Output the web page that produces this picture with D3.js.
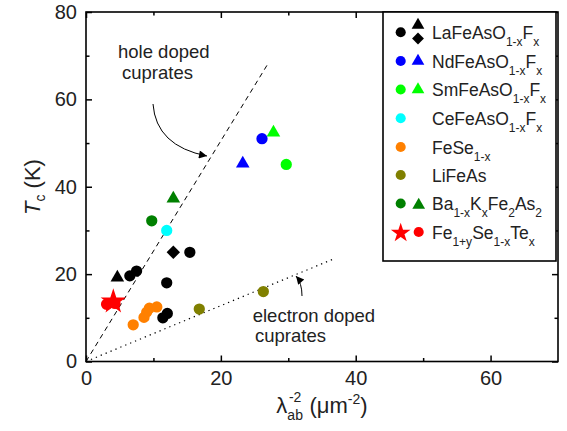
<!DOCTYPE html>
<html>
<head>
<meta charset="utf-8">
<script src="https://cdn.jsdelivr.net/npm/d3@7"></script>
<style>
  body { margin: 0; background: #fff; }
  svg { display: block; font-family: "Liberation Sans", Arial, sans-serif; }
</style>
</head>
<body>
<svg id="chart" width="567" height="431"></svg>
<script>
// ---- data (x = lambda_ab^-2 in um^-2, y = Tc in K) ----
const laCircles = [[6.5, 19.6], [7.5, 20.7], [11.97, 18.0], [11.4, 10.0], [12.06, 11.0], [15.4, 25.0]];
const laTriangles = [[4.65, 19.2]];
const laDiamonds = [[12.95, 25.0]];
const ndCircles = [[26.1, 51.0]];
const ndTriangles = [[23.25, 45.3]];
const smCircles = [[29.7, 45.1]];
const smTriangles = [[27.8, 52.4]];
const ceCircles = [[11.97, 30.0]];
const feSeCircles = [[7.0, 8.4], [8.6, 10.1], [9.0, 11.3], [9.4, 12.2], [10.5, 12.5]];
const liFeAsCircles = [[16.8, 12.0], [26.3, 16.0]];
const baCircles = [[9.75, 32.2]];
const baTriangles = [[12.95, 37.3]];
const feSeTeCircles = [[3.05, 13.1], [4.3, 13.3]];
const feSeTeStars = [[4.05, 13.7]];
const holeLine = [[0, 0], [27, 68.2]];
const electronLine = [[0, 0], [36.6, 23.4]];
const xTicks = [0, 20, 40, 60];
const yTicks = [0, 20, 40, 60, 80];

const svg = d3.select("#chart");
const x = d3.scaleLinear().domain([0, 70]).range([86, 558]);
const y = d3.scaleLinear().domain([0, 80]).range([361.5, 12]);

// reference lines
const line = d3.line().x(d => x(d[0])).y(d => y(d[1]));
svg.append("path").datum(holeLine).attr("d", line)
  .attr("fill", "none").attr("stroke", "#000").attr("stroke-width", 1).attr("stroke-dasharray", "5,4");
svg.append("path").datum(electronLine).attr("d", line)
  .attr("fill", "none").attr("stroke", "#000").attr("stroke-width", 1.2).attr("stroke-dasharray", "1.3,4");

// arrows
const defs = svg.append("defs");
defs.append("marker").attr("id", "ah").attr("viewBox", "0 0 10 10").attr("refX", 10).attr("refY", 5)
  .attr("markerWidth", 12).attr("markerHeight", 8).attr("markerUnits", "userSpaceOnUse").attr("orient", "auto")
  .append("path").attr("d", "M0,0 L10,5 L0,10 z").attr("fill", "#000");
svg.append("path").attr("d", "M153,104 Q156,146 207,156")
  .attr("fill", "none").attr("stroke", "#000").attr("stroke-width", 1).attr("marker-end", "url(#ah)");
svg.append("path").attr("d", "M302,296 Q302,283 296,276")
  .attr("fill", "none").attr("stroke", "#000").attr("stroke-width", 1).attr("marker-end", "url(#ah)");

// annotation text
const ann = (tx, ty, s) => svg.append("text").attr("x", tx).attr("y", ty).attr("font-size", 18.5).attr("fill", "#222").text(s);
ann(118, 58, "hole doped");
ann(122, 79, "cuprates");
ann(252.7, 322, "electron doped");
ann(255, 342, "cuprates");

// markers
const circ = d3.symbol().type(d3.symbolCircle).size(100);
const tri = d3.symbol().type(d3.symbolTriangle).size(80);
const sq = d3.symbol().type(d3.symbolSquare).size(90);
const star = d3.symbol().type(d3.symbolStar).size(200);
function draw(data, gen, color, rot) {
  svg.append("g").selectAll("path").data(data).join("path")
    .attr("d", gen)
    .attr("transform", d => `translate(${x(d[0])},${y(d[1])})` + (rot ? ` rotate(${rot})` : ""))
    .attr("fill", color);
}
draw(feSeCircles, circ, "#ff8000");
draw(liFeAsCircles, circ, "#808000");
draw(ceCircles, circ, "#00ffff");
draw(baCircles, circ, "#008000");
draw(baTriangles, tri, "#008000");
draw(ndCircles, circ, "#0000ff");
draw(ndTriangles, tri, "#0000ff");
draw(smCircles, circ, "#00ff00");
draw(smTriangles, tri, "#00ff00");
draw(laCircles, circ, "#000");
draw(laTriangles, tri, "#000");
draw(laDiamonds, sq, "#000", 45);
draw(feSeTeCircles, circ, "#ff0000");
draw(feSeTeStars, star, "#ff0000");

// axes
function styleAxis(g) {
  g.select(".domain").remove();
  g.selectAll(".tick line").attr("stroke", "#000").attr("stroke-width", 1.5);
  g.selectAll("text").attr("font-size", 20).attr("fill", "#222").attr("font-family", "Liberation Sans, Arial, sans-serif");
}
const minorX = d3.range(10, 70, 20), minorY = d3.range(10, 80, 20);
svg.append("g").attr("transform", "translate(0,361.5)")
  .call(d3.axisBottom(x).tickValues(xTicks).tickSize(-6).tickPadding(9).tickFormat(d3.format("d"))).call(styleAxis);
svg.append("g").attr("transform", "translate(0,361.5)")
  .call(d3.axisBottom(x).tickValues(minorX).tickSize(-3.5).tickFormat("")).call(styleAxis);
svg.append("g").attr("transform", "translate(0,12)")
  .call(d3.axisTop(x).tickValues(xTicks).tickSize(-6).tickFormat("")).call(styleAxis);
svg.append("g").attr("transform", "translate(0,12)")
  .call(d3.axisTop(x).tickValues(minorX).tickSize(-3.5).tickFormat("")).call(styleAxis);
svg.append("g").attr("transform", "translate(86,0)")
  .call(d3.axisLeft(y).tickValues(yTicks).tickSize(-6).tickPadding(9).tickFormat(d3.format("d"))).call(styleAxis);
svg.append("g").attr("transform", "translate(86,0)")
  .call(d3.axisLeft(y).tickValues(minorY).tickSize(-3.5).tickFormat("")).call(styleAxis);
svg.append("g").attr("transform", "translate(558,0)")
  .call(d3.axisRight(y).tickValues(yTicks).tickSize(-6).tickFormat("")).call(styleAxis);
svg.append("g").attr("transform", "translate(558,0)")
  .call(d3.axisRight(y).tickValues(minorY).tickSize(-3.5).tickFormat("")).call(styleAxis);

// frame
svg.append("rect").attr("x", 86).attr("y", 12).attr("width", 472).attr("height", 349.5)
  .attr("fill", "none").attr("stroke", "#000").attr("stroke-width", 1.6);

// axis titles
const yt = svg.append("text").attr("transform", "translate(40,187) rotate(-90)")
  .attr("text-anchor", "middle").attr("font-size", 22).attr("fill", "#222");
yt.append("tspan").attr("font-style", "italic").text("T");
yt.append("tspan").attr("font-size", 14).attr("dy", 5).text("c");
yt.append("tspan").attr("dy", -5).text(" (K)");

const xt = svg.append("text").attr("x", 322).attr("y", 413).attr("text-anchor", "middle").attr("font-size", 22).attr("fill", "#222");
xt.append("tspan").text("λ");
xt.append("tspan").attr("font-size", 14).attr("dy", 7).text("ab");
xt.append("tspan").attr("font-size", 14).attr("dy", -18).attr("dx", -14).text("-2");
xt.append("tspan").attr("dy", 11).attr("dx", 2).text(" (μm");
xt.append("tspan").attr("font-size", 14).attr("dy", -9).text("-2");
xt.append("tspan").attr("dy", 9).text(")");

// legend
svg.append("rect").attr("x", 383).attr("y", 12).attr("width", 173).attr("height", 249)
  .attr("fill", "#fff").attr("stroke", "#000").attr("stroke-width", 1.6);
const legendRows = [
  { parts: [["LaFeAsO"], ["1-x", 1], ["F"], ["x", 1]] },
  { parts: [["NdFeAsO"], ["1-x", 1], ["F"], ["x", 1]] },
  { parts: [["SmFeAsO"], ["1-x", 1], ["F"], ["x", 1]] },
  { parts: [["CeFeAsO"], ["1-x", 1], ["F"], ["x", 1]] },
  { parts: [["FeSe"], ["1-x", 1]] },
  { parts: [["LiFeAs"]] },
  { parts: [["Ba"], ["1-x", 1], ["K"], ["x", 1], ["Fe"], ["2", 1], ["As"], ["2", 1]] },
  { parts: [["Fe"], ["1+y", 1], ["Se"], ["1-x", 1], ["Te"], ["x", 1]] }
];
const rowY = [32.3, 61, 89.5, 118.3, 147, 175, 203.5, 232];
legendRows.forEach((r, i) => {
  const t = svg.append("text").attr("x", 432).attr("y", rowY[i] + 6.5).attr("font-size", 17.5).attr("fill", "#222");
  let sub = false;
  r.parts.forEach(p => {
    const s = t.append("tspan").text(p[0]);
    if (p[1] && !sub) { s.attr("dy", 7).attr("font-size", 12); sub = true; }
    else if (!p[1] && sub) { s.attr("dy", -7); sub = false; }
    else if (p[1]) { s.attr("font-size", 12); }
  });
});
const lsym = (gen, color, cx, cy, rot) => svg.append("path").attr("d", gen)
  .attr("transform", `translate(${cx},${cy})` + (rot ? ` rotate(${rot})` : "")).attr("fill", color);
const lc = d3.symbol().type(d3.symbolCircle).size(80);
const lt = d3.symbol().type(d3.symbolTriangle).size(70);
const ls = d3.symbol().type(d3.symbolSquare).size(70);
const lstar = d3.symbol().type(d3.symbolStar).size(120);
lsym(lc, "#000", 400.7, rowY[0]);
lsym(lt, "#000", 418, 25);
lsym(ls, "#000", 418, 38.5, 45);
lsym(lc, "#0000ff", 400.7, rowY[1]); lsym(lt, "#0000ff", 418, rowY[1]);
lsym(lc, "#00ff00", 400.7, rowY[2]); lsym(lt, "#00ff00", 418, rowY[2]);
lsym(lc, "#00ffff", 400.7, rowY[3]);
lsym(lc, "#ff8000", 400.7, rowY[4]);
lsym(lc, "#808000", 400.7, rowY[5]);
lsym(lc, "#008000", 400.7, rowY[6]); lsym(lt, "#008000", 418.7, rowY[6] + 1.5);
lsym(lstar, "#ff0000", 400.7, rowY[7] + 1); lsym(lc, "#ff0000", 418.7, rowY[7]);
</script>
</body>
</html>
